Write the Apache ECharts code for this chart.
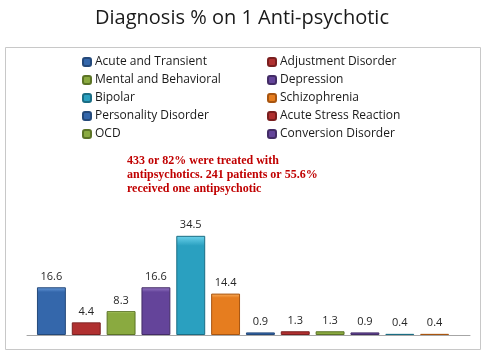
<!DOCTYPE html>
<html><head><meta charset="utf-8">
<script src="https://cdn.jsdelivr.net/npm/echarts@6/dist/echarts.min.js"></script>
<style>html,body{margin:0;padding:0;background:#fff}#c{width:484px;height:357px}</style>
</head><body><div id="c"></div>
<script>
const titleText = 'Diagnosis % on 1 Anti-psychotic';
const categories = ['Acute and Transient','Adjustment Disorder','Mental and Behavioral','Depression','Bipolar','Schizophrenia','Personality Disorder','Acute Stress Reaction','OCD','Conversion Disorder','Other 1','Other 2'];
const values = [16.6, 4.4, 8.3, 16.6, 34.5, 14.4, 0.9, 1.3, 1.3, 0.9, 0.4, 0.4];
const legendNames = categories.slice(0, 10);
const annotation = '433 or 82% were treated with\nantipsychotics. 241 patients or 55.6%\nreceived one antipsychotic';
const palette = [
  ['#6a9ddd','#3467ab','#24497a'],
  ['#e06464','#b03030','#7a1f1f'],
  ['#c0de75','#8aaa40','#5c7426'],
  ['#9a7cc8','#64449a','#432c66'],
  ['#6dd3ec','#2aa0c0','#1a6d84'],
  ['#fbb060','#e67d1f','#a85510']
];
function grad(i){
  const p = palette[i % 6];
  return {type:'linear',x:0,y:0,x2:0,y2:1,colorStops:[{offset:0,color:p[0]},{offset:0.1,color:p[1]},{offset:1,color:p[1]}]};
}
const series = categories.map((name, i) => ({
  name: name,
  type: 'bar',
  stack: 'all',
  barCategoryGap: '17%',
  data: categories.map((c, j) => j === i ? values[i] : null),
  itemStyle: {color: grad(i), borderColor: palette[i % 6][2], borderWidth: 1},
  label: {show: true, position: 'top', distance: 5, color: '#262626', fontFamily: 'Open Sans', fontSize: 11},
  emphasis: {disabled: true}
}));
const chart = echarts.init(document.getElementById('c'), null, {renderer: 'canvas'});
const legendText = {fontFamily: 'Open Sans', fontSize: 12, color: '#1a1a1a', padding: [0,0,0,-1]};
chart.setOption({
  animation: false,
  backgroundColor: '#fff',
  title: {text: titleText, left: 'center', top: 3, textStyle: {fontFamily: 'Open Sans', fontWeight: 'normal', fontSize: 20, color: '#1a1a1a'}},
  graphic: [
    {type: 'rect', shape: {x: 5.5, y: 47.5, width: 475, height: 302}, style: {fill: 'none', stroke: '#c8c8c8', lineWidth: 1}, z: -1},
    {type: 'text', left: 127, top: 154, style: {text: annotation, font: 'bold 12px "Liberation Serif"', fill: '#c00000', lineHeight: 14}}
  ],
  legend: [
    {orient: 'vertical', left: 77, top: 51, itemWidth: 8, itemHeight: 8, itemGap: 6, data: legendNames.filter((n,i)=>i%2===0), textStyle: legendText, selectedMode: false},
    {orient: 'vertical', left: 262, top: 51, itemWidth: 8, itemHeight: 8, itemGap: 6, data: legendNames.filter((n,i)=>i%2===1), textStyle: legendText, selectedMode: false}
  ],
  grid: [
    {left: 34, right: 32, top: 220, bottom: 22, containLabel: false},
    {left: 27, right: 14, top: 220, bottom: 22, containLabel: false}
  ],
  xAxis: [
    {type: 'category', data: categories, gridIndex: 0, axisLine: {show: false}, axisTick: {show: false}, axisLabel: {show: false}},
    {type: 'category', data: [''], gridIndex: 1, axisLine: {show: true, lineStyle: {color: '#a6a6a6', width: 1}}, axisTick: {show: false}, axisLabel: {show: false}}
  ],
  yAxis: [
    {type: 'value', min: 0, max: 40, gridIndex: 0, show: false, splitLine: {show: false}},
    {type: 'value', min: 0, max: 40, gridIndex: 1, show: false, splitLine: {show: false}}
  ],
  series: series
});
</script></body></html>
